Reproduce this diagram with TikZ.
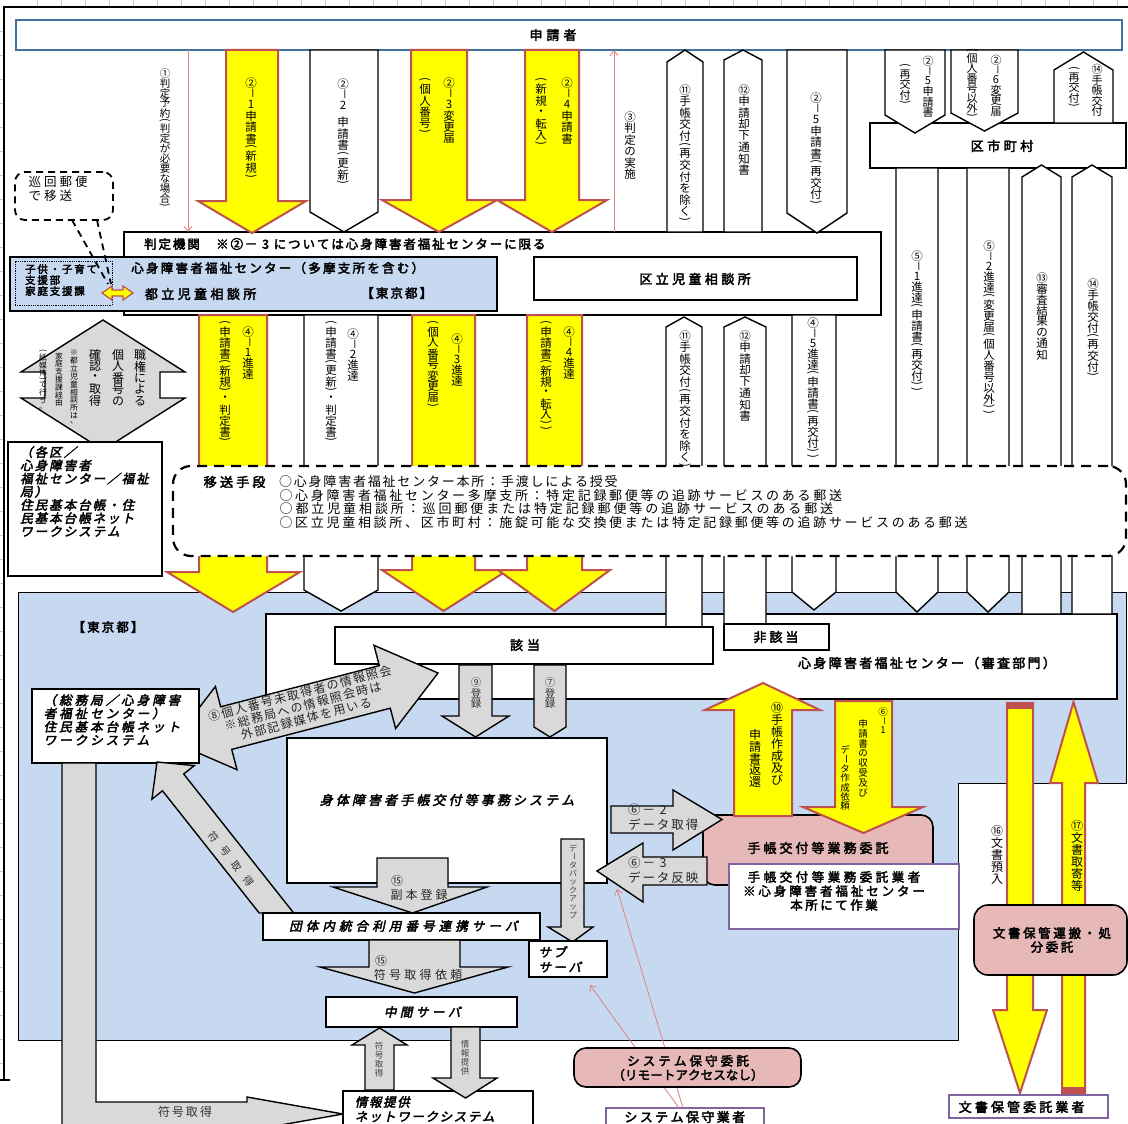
\documentclass[tikz,border=0pt]{standalone}
\usepackage{fontspec}
\setmainfont{Noto Sans CJK JP}[AutoFakeBold=3,AutoFakeSlant=0.22]
\usepackage{graphicx}
\usetikzlibrary{calc,arrows.meta}
\definecolor{ylw}{HTML}{FFFF00}
\definecolor{ybrd}{HTML}{C0504D}
\definecolor{gry}{HTML}{D9D9D9}
\definecolor{blu}{HTML}{C6D9F1}
\definecolor{pnk}{HTML}{E6B9B8}
\definecolor{prp}{HTML}{8064A2}
\definecolor{sblue}{HTML}{41719C}
\definecolor{thinred}{HTML}{E08080}

\ExplSyntaxOn
\dim_new:N \l_rk_pitch_dim
\cs_new_protected:Npn \rk_vbox:nn #1 #2
  {
    \hbox_to_wd:nn {1em}
      { \hss \vbox_to_ht:nn { #1 \l_rk_pitch_dim } { \vss \hbox:n {#2} \vss } \hss }
  }
\cs_new_protected:Npn \rk_vchar:n #1
  {
    \str_case:nnF {#1}
      {
        {（} { \rk_vbox:nn {0.55} { \rotatebox[origin=c]{-90}{(} } }
        {）} { \rk_vbox:nn {0.55} { \rotatebox[origin=c]{-90}{)} } }
        {－} { \rk_vbox:nn {0.85} { \rotatebox[origin=c]{-90}{－} } }
        {ー} { \rk_vbox:nn {1} { \rotatebox[origin=c]{-90}{ー} } }
        {*} { \rk_vbox:nn {0.5} { } }
      }
      { \rk_vbox:nn {1} {#1} }
  }
\NewDocumentCommand \vt { O{11.5pt} m }
  {
    \dim_set:Nn \l_rk_pitch_dim {#1}
    \vtop { \offinterlineskip \tl_map_inline:nn {#2} { \rk_vchar:n {##1} } }
  }
\NewDocumentCommand \hs { m m }
  {
    \dim_set:Nn \l_rk_pitch_dim {#1}
    \tl_map_inline:nn {#2}
      {
        \str_if_eq:nnTF {##1} {*}
          { \hbox_to_wd:nn { 0.5 \l_rk_pitch_dim } { } }
          { \hbox_to_wd:nn { \l_rk_pitch_dim } { \hss ##1 \hss } }
      }
  }
\ExplSyntaxOff

\newcommand\fsz[1]{\fontsize{#1}{#1}\selectfont}
\newcommand\fszl[2]{\fontsize{#1}{#2}\selectfont}
% box node: style, name, x1, y1, x2, y2
\newcommand\bx[6][]{%
  \pgfmathsetmacro\rkw{#5-#3}\pgfmathsetmacro\rkh{#6-#4}%
  \node[inner sep=0pt,outer sep=0pt,minimum width=\rkw pt,minimum height=\rkh pt,anchor=north west,#1] (#2) at (#3,#4) {};}
% vertical block arrow: style, x1, x2, ybase, yshoulder, hx1, hx2, ytip
\newcommand\varrow[8][]{%
  \pgfmathsetmacro\rkxm{(#2+#3)/2}%
  \draw[#1] (#2,#4) -- (#2,#5) -- (#6,#5) -- (\rkxm,#8) -- (#7,#5) -- (#3,#5) -- (#3,#4) -- cycle;}
% horizontal block arrow: style, y1, y2, xbase, xshoulder, hy1, hy2, xtip
\newcommand\harrow[8][]{%
  \pgfmathsetmacro\rkym{(#2+#3)/2}%
  \draw[#1] (#4,#2) -- (#5,#2) -- (#5,#6) -- (#8,\rkym) -- (#5,#7) -- (#5,#3) -- (#4,#3) -- cycle;}

\begin{document}
\begin{tikzpicture}[x=1pt,y=-1pt,
  yarrow/.style={fill=ylw,draw=ybrd,line width=2pt},
  warrow/.style={fill=white,draw=black,line width=1.4pt},
  garrow/.style={fill=gry,draw=black,line width=1.4pt},
  bbox/.style={draw=black,fill=white,line width=1.5pt},
  pbox/.style={draw=black,fill=pnk,line width=1.6pt,rounded corners=12pt},
  vbox/.style={draw=prp,fill=white,line width=1.6pt},
  vl/.style={anchor=north,inner sep=0pt,font=\fsz{11.5}},
  vs/.style={anchor=north,inner sep=0pt,font=\fsz{9.5}},
  tx/.style={inner sep=0pt},
  thinarr/.style={draw=thinred,line width=0.8pt,-{Straight Barb[length=5pt,width=8pt]}},
]
\useasboundingbox (0,0) rectangle (1128,1124);
\fill[white] (0,0) rectangle (1128,1124);
\foreach \g in {37,61,...,1117} \draw[black!20,line width=0.6pt] (\g,0) -- (\g,7);
\foreach \g in {31,55,...,1075} \draw[black!20,line width=0.6pt] (0,\g) -- (4,\g);
\draw[line width=1.2pt] (4,1080) -- (4,7) -- (1128,7);
\draw[line width=1.2pt] (0,1080) -- (10,1080);

% ---------- blue Tokyo region ----------
\path[draw=black,line width=1pt,fill=blu] (18,592) -- (1126,592) -- (1126,783) -- (958,783) -- (958,1040) -- (18,1040) -- cycle;
\node[tx,font=\bfseries\fsz{12.5}] (tokyoT) at (108,627) {\hs{14.6pt}{【東京都】}};

% review department box
\bx[bbox]{shinsa}{266}{614}{1117}{699}
\node[tx,font=\bfseries\fsz{13}] (shinsaT) at (927,663) {\hs{15.3pt}{心身障害者福祉センター（審査部門）}};

% ---------- applicant ----------
\bx[draw=sblue,fill=white,line width=1.2pt]{shinsei}{16}{20}{1122}{50}
\node[tx,font=\bfseries\fsz{13}] (shinseiT) at (553,35) {\hs{17pt}{申請者}};

% ---------- judging body ----------
\bx[bbox,line width=1.8pt]{hantei}{124}{232}{881}{315}
\node[tx,anchor=west,font=\bfseries\fsz{12.5}] (hanteiT) at (143,244) {\hs{14.4pt}{判定機関**※②－3については心身障害者福祉センターに限る}};
\bx[draw=black,fill=blu,line width=2pt]{center}{10}{257}{497}{311}
\bx[draw=black,densely dotted,line width=0.8pt]{kodomo}{15}{261}{112}{305}
\node[tx,anchor=north west,align=left,font=\bfseries\fszl{10.5}{11}] (kodomoT) at (24,264) {\hs{12.3pt}{子供・子育て}\\\hs{12.3pt}{支援部}\\\hs{12.3pt}{家庭支援課}};
\node[tx,anchor=west,font=\bfseries\fsz{12.5}] (centerT) at (130,268) {\hs{14.75pt}{心身障害者福祉センター（多摩支所を含む）}};
\node[tx,anchor=west,font=\bfseries\fsz{13}] (toritsuT) at (143,294) {\hs{16.4pt}{都立児童相談所}};
\node[tx,anchor=west,font=\bfseries\fsz{12.5}] (tokyo2T) at (360,293) {\hs{14.6pt}{【東京都】}};
\draw[fill=ylw,draw=ybrd,line width=1.2pt] (102,293) -- (112,286) -- (112,290) -- (123,290) -- (123,286) -- (133,293) -- (123,300) -- (123,296) -- (112,296) -- (112,300) -- cycle;
\bx[bbox]{kuritsu}{534}{257}{857}{300}
\node[tx,font=\bfseries\fsz{13}] (kuritsuT) at (695,279) {\hs{16.4pt}{区立児童相談所}};

% callout
\bx[draw=black,line width=1.8pt,dash pattern=on 7pt off 5pt,rounded corners=10pt]{junkai}{15}{172}{113}{220}
\node[tx,anchor=north west,align=left,font=\fszl{12.5}{14}] (junkaiT) at (27,176) {\hs{15.5pt}{巡回郵便}\\\hs{15.5pt}{で移送}};
\coordinate (dbl) at (108,284);
\draw[line width=1.8pt,dash pattern=on 7pt off 5pt] ($(junkai.south west)+(57,0)$) -- (dbl);
\draw[line width=1.8pt,dash pattern=on 7pt off 5pt] ($(junkai.south west)+(82,0)$) -- ($(dbl)+(3,0)$);

% ---------- top arrows ----------
\varrow[yarrow]{226}{278}{50}{201}{198}{306}{233}
\varrow[warrow]{310}{378}{50}{212}{310}{378}{232}
\varrow[yarrow]{411}{467}{50}{200}{382}{497}{232}
\varrow[yarrow]{525}{579}{50}{200}{497}{607}{232}
\varrow[warrow]{667}{703}{232}{62}{667}{703}{50}
\varrow[warrow]{724}{762}{232}{60}{724}{762}{50}
\varrow[warrow]{787}{847}{50}{213}{787}{847}{233}
\coordinate (c1) at (188,0);
\coordinate (c3) at (614,0);
\draw[thinarr] (shinsei.south -| c1) -- (hantei.north -| c1);
\draw[thinarr] (hantei.north -| c3) -- (shinsei.south -| c3);

% municipality
\bx[bbox]{kushi}{870}{123}{1126}{168}
\node[tx,font=\bfseries\fsz{13}] (kushiT) at (1002,146) {\hs{16.5pt}{区市町村}};
\varrow[warrow]{885}{945}{50}{115}{885}{945}{133}
\varrow[warrow]{951}{1018}{50}{113}{951}{1018}{131}
\varrow[warrow]{1054}{1113}{123}{70}{1054}{1113}{52}

% top labels
\node[vl,font=\fsz{10.5}] (l1) at (165,68) {\vt[10pt]{①判定予約（判定が必要な場合）}};
\node[vl] (l21) at (251,77) {\vt{②－1申請書（新規）}};
\node[vl] (l22) at (343,78) {\vt{②－2*申請書（更新）}};
\node[vl] (l23a) at (449,77) {\vt{②－3変更届}};
\node[vl] (l23b) at (425,77) {\vt{（個人番号）}};
\node[vl] (l24a) at (567,77) {\vt{②－4申請書}};
\node[vl] (l24b) at (541,77) {\vt{（新規・転入）}};
\node[vl] (l3) at (630,111) {\vt{③判定の実施}};
\node[vl] (l11) at (685,84) {\vt{⑪手帳交付（再交付を除く）}};
\node[vl] (l12) at (744,84) {\vt{⑫申請却下通知書}};
\node[vl] (l25) at (816,92) {\vt{②－5申請書（再交付）}};
\node[vl,font=\fsz{11}] (l25a) at (928,56) {\vt[10.5pt]{②－5申請書}};
\node[vl,font=\fsz{11}] (l25b) at (905,63) {\vt[10.5pt]{（再交付）}};
\node[vl,font=\fsz{11}] (l26a) at (996,55) {\vt[10.5pt]{②－6変更届}};
\node[vl,font=\fsz{11}] (l26b) at (972,48) {\vt[10pt]{（個人番号以外）}};
\node[vl,font=\fsz{11}] (l14a) at (1097,64) {\vt[10.5pt]{⑭手帳交付}};
\node[vl,font=\fsz{11}] (l14b) at (1074,66) {\vt[10.5pt]{（再交付）}};

% ---------- middle arrows ----------
\varrow[yarrow]{199}{267}{315}{572}{167}{300}{612}
\varrow[warrow]{304}{378}{315}{590}{304}{378}{611}
\varrow[yarrow]{412}{475}{315}{570}{382}{508}{611}
\varrow[yarrow]{527}{582}{315}{570}{498}{610}{611}
\varrow[warrow]{666}{702}{627}{327}{666}{702}{317}
\varrow[warrow]{724}{766}{624}{327}{724}{766}{317}
\varrow[warrow]{792}{836}{315}{592}{792}{836}{610}
\varrow[warrow]{896}{938}{168}{592}{896}{938}{612}
\varrow[warrow]{967}{1009}{168}{592}{967}{1009}{612}
\varrow[warrow]{1022}{1061}{614}{177}{1022}{1061}{165}
\varrow[warrow]{1072}{1112}{614}{177}{1072}{1112}{165}

\node[vl] (l41a) at (248,326) {\vt[11pt]{④－1進達}};
\node[vl] (l41b) at (225,320) {\vt[11pt]{（申請書（新規）・判定書）}};
\node[vl] (l42a) at (353,328) {\vt[11pt]{④－2進達}};
\node[vl] (l42b) at (331,320) {\vt[11pt]{（申請書（更新）・判定書）}};
\node[vl] (l43a) at (457,333) {\vt[11pt]{④－3進達}};
\node[vl] (l43b) at (433,320) {\vt[11pt]{（個人番号変更届）}};
\node[vl] (l44a) at (569,326) {\vt[11pt]{④－4進達}};
\node[vl] (l44b) at (546,320) {\vt[11pt]{（申請書（新規・転入））}};
\node[vl] (l11b) at (685,330) {\vt{⑪手帳交付（再交付を除く）}};
\node[vl] (l12b) at (745,330) {\vt{⑫申請却下通知書}};
\node[vl] (l45) at (813,317) {\vt[11pt]{④－5進達（申請書（再交付））}};
\node[vl] (l51) at (917,250) {\vt[11pt]{⑤－1進達（申請書（再交付））}};
\node[vl] (l52) at (989,240) {\vt[11pt]{⑤－2進達（変更届（個人番号以外））}};
\node[vl] (l13) at (1042,272) {\vt[11pt]{⑬審査結果の通知}};
\node[vl] (l14c) at (1093,278) {\vt[11pt]{⑭手帳交付（再交付）}};

% gray double arrow (personal number)
\draw[garrow] (103,320) -- (185,372) -- (160,372) -- (160,398) -- (185,398) -- (103,450) -- (21,398) -- (45,398) -- (45,372) -- (21,372) -- cycle;
\node[vl,font=\fsz{12}] (g1) at (140,349) {\vt[11.5pt]{職権による}};
\node[vl,font=\fsz{12}] (g2) at (118,349) {\vt[11.5pt]{個人番号の}};
\node[vl,font=\fsz{12}] (g3) at (95,349) {\vt[11.5pt]{確認・取得}};
\node[vl,font=\fsz{7.8}] (g4) at (74,349) {\vt[7.8pt]{※都立児童相談所は、}};
\node[vl,font=\fsz{7.8}] (g5) at (59,352) {\vt[7.8pt]{家庭支援課経由}};
\node[vl,font=\fsz{7.8}] (g6) at (43,349) {\vt[7.8pt]{（紙媒体）で行う。}};

% residents registry box (left)
\bx[bbox]{kakku}{8}{442}{162}{576}
\node[tx,anchor=north west,align=left,font=\bfseries\itshape\fszl{12.5}{13.2}] (kakkuT) at (19,446) {\hs{14.5pt}{（各区／}\\\hs{14.5pt}{心身障害者}\\\hs{14.5pt}{福祉センター／福祉}\\\hs{14.5pt}{局）}\\\hs{14.5pt}{住民基本台帳・住}\\\hs{14.5pt}{民基本台帳ネット}\\\hs{14.5pt}{ワークシステム}};

% ---------- transport means (dashed) ----------
\bx[draw=black,fill=white,line width=2.2pt,dash pattern=on 10pt off 7pt,rounded corners=18pt]{isou}{173}{466}{1126}{556}
\node[tx,anchor=west,font=\bfseries\fsz{13}] (isouT) at (202,482) {\hs{16.2pt}{移送手段}};
\node[tx,anchor=west,font=\fsz{13}] (i1) at (278,482) {\hs{14.8pt}{○心身障害者福祉センター本所：手渡しによる授受}};
\node[tx,anchor=west,font=\fsz{13}] (i2) at (278,495.5) {\hs{15.7pt}{○心身障害者福祉センター多摩支所：特定記録郵便等の追跡サービスのある郵送}};
\node[tx,anchor=west,font=\fsz{13}] (i3) at (278,509) {\hs{15.9pt}{○都立児童相談所：巡回郵便または特定記録郵便等の追跡サービスのある郵送}};
\node[tx,anchor=west,font=\fsz{13}] (i4) at (278,522.5) {\hs{15.7pt}{○区立児童相談所、区市町村：施錠可能な交換便または特定記録郵便等の追跡サービスのある郵送}};

% ---------- lower Tokyo part ----------
\bx[bbox]{gaitou}{335}{627}{713}{664}
\node[tx,font=\bfseries\fsz{13}] (gaitouT) at (525,645) {\hs{17pt}{該当}};
\bx[bbox]{higai}{724}{624}{829}{650}
\node[tx,font=\bfseries\fsz{13}] (higaiT) at (776,637) {\hs{16pt}{非該当}};

% 8 double arrow
\draw[garrow] (173,742) -- (215.4,686.5) -- (220.7,706.8) -- (379.3,665.6) -- (374.0,645.3) -- (438,673) -- (395.6,728.5) -- (390.3,708.2) -- (231.7,749.4) -- (237.0,769.7) -- cycle;
\node[tx,rotate=14.6,align=center,font=\fszl{12}{13},text=black!85] (l8) at (303,706) {\hs{13.6pt}{⑧個人番号未取得者の情報照会}\\\hs{13.6pt}{※総務局への情報照会時は}\\\hs{13.6pt}{外部記録媒体を用いる}};

% soumu box
\bx[bbox]{soumu}{32}{689}{199}{763}
\node[tx,anchor=north west,align=left,font=\bfseries\itshape\fszl{12.5}{13.3}] (soumuT) at (42,694) {\hs{15.5pt}{（総務局／心身障害}\\\hs{15.5pt}{者福祉センター）}\\\hs{15.5pt}{住民基本台帳ネット}\\\hs{15.5pt}{ワークシステム}};

% 9 & 7 registration arrows
\varrow[garrow]{459}{492}{665}{716}{442}{509}{737}
\varrow[garrow]{534}{566}{665}{727}{534}{566}{737}
\node[vs,font=\fsz{10.5},text=black!80] (l9) at (476,677) {\vt[10.5pt]{⑨登録}};
\node[vs,font=\fsz{10.5},text=black!80] (l7) at (550,677) {\vt[10.5pt]{⑦登録}};

% system box
\bx[bbox]{jimu}{287}{738}{607}{883}
\node[tx,font=\bfseries\itshape\fsz{13}] (jimuT) at (447,800) {\hs{16.1pt}{身体障害者手帳交付等事務システム}};

% L-shaped arrow and diagonal code arrow
\draw[garrow] (62,763) -- (96,763) -- (96,1102) -- (247,1102) -- (247,1097) -- (343,1114) -- (247,1131) -- (247,1126) -- (62,1126) -- cycle;
\node[tx,font=\fsz{12},text=black!80] (lfg2) at (185,1112) {\hs{14pt}{符号取得}};
\draw[garrow] (157,762) -- (194.3,765.6) -- (183.7,774) -- (293.7,913) -- (259.2,913) -- (162.5,790.8) -- (151.9,799.2) -- cycle;
\node[tx,rotate=-52,font=\fsz{10.2},text=black!80] (lfg1) at (231,859) {\hs{18.8pt}{符号取得}};

% 15 arrows and servers
\varrow[garrow]{377}{448}{858}{887}{333}{487}{913}
\node[tx,font=\fsz{12},text=black!85] (l15a) at (397,881) {⑮};
\node[tx,anchor=west,font=\fsz{12},text=black!85] (l15b) at (389,895) {\hs{15pt}{副本登録}};
\varrow[garrow]{561}{584}{839}{927}{548}{593}{942}
\node[vl,font=\fsz{8},text=black!75] (lbk) at (573,844) {\vt[8.4pt]{データバックアップ}};
\bx[bbox]{dantai}{263}{913}{540}{940}
\node[tx,anchor=west,font=\bfseries\itshape\fsz{12.5}] (dantaiT) at (287,926) {\hs{16.6pt}{団体内統合利用番号連携サーバ}};
\varrow[garrow]{369}{460}{940}{967}{320}{508}{993}
\node[tx,font=\fsz{12},text=black!85] (l15c) at (381,961) {⑮};
\node[tx,anchor=west,font=\fsz{12},text=black!85] (l15d) at (372,975) {\hs{15.3pt}{符号取得依頼}};
\bx[bbox]{subsv}{529}{941}{607}{977}
\node[tx,anchor=north west,align=left,font=\bfseries\itshape\fszl{12.5}{15}] (subsvT) at (537,946) {\hs{15pt}{サブ}\\\hs{15pt}{サーバ}};
\bx[bbox]{chukan}{326}{997}{517}{1027}
\node[tx,anchor=west,font=\bfseries\itshape\fsz{12.5}] (chukanT) at (382,1012) {\hs{16pt}{中間サーバ}};
\bx[bbox]{jouhou}{343}{1091}{533}{1140}
\node[tx,anchor=north west,align=left,font=\bfseries\itshape\fszl{12.5}{14.5}] (jouhouT) at (354,1096) {\hs{14.1pt}{情報提供}\\\hs{14.1pt}{ネットワークシステム}};
\varrow[garrow]{365}{394}{1090}{1045}{352}{407}{1028}
\varrow[garrow]{451}{480}{1027}{1078}{433}{497}{1098}
\node[vl,font=\fsz{8.5},text=black!75] (lfg) at (379,1042) {\vt[9pt]{符号取得}};
\node[vl,font=\fsz{8.5},text=black!75] (ljt) at (465,1040) {\vt[9pt]{情報提供}};

% pink contractor box
\bx[pbox]{techo}{703}{815}{933}{885}
\node[tx,font=\bfseries\fsz{13}] (techoT) at (818,848) {\hs{16pt}{手帳交付等業務委託}};
\bx[vbox]{techogyo}{729}{864}{959}{929}
\node[tx,align=center,font=\bfseries\fszl{12.5}{14}] (techogyoT) at (834,891) {\hs{16pt}{手帳交付等業務委託業者}\\\hs{15.4pt}{※心身障害者福祉センター}\\\hs{15pt}{本所にて作業}};

% 6-2, 6-3
\harrow[garrow]{806}{833}{611}{673}{790}{850}{722}
\node[tx,anchor=north west,align=left,font=\fszl{12.5}{15},text=black!85] (l62) at (627,804) {\hs{14.4pt}{⑥－2}\\\hs{14.4pt}{データ取得}};
\harrow[garrow]{857}{885}{707}{643}{843}{902}{597}
\node[tx,anchor=north west,align=left,font=\fszl{12.5}{14.5},text=black!85] (l63) at (627,857) {\hs{14.4pt}{⑥－3}\\\hs{14.4pt}{データ反映}};

% 10 and 6-1 yellow arrows
\varrow[yarrow]{734}{792}{816}{710}{705}{820}{683}
\node[vl,font=\fsz{12}] (l10a) at (777,702) {\vt[12pt]{⑩手帳作成及び}};
\node[vl,font=\fsz{12}] (l10b) at (755,729) {\vt[11.7pt]{申請書返還}};
\varrow[yarrow]{835}{892}{701}{807}{803}{923}{833}
\node[vs] (l61a) at (883,707) {\vt[9.8pt]{⑥－1}};
\node[vs] (l61b) at (863,719) {\vt[9.8pt]{申請書の収受及び}};
\node[vs] (l61c) at (845,745) {\vt[9.4pt]{データ作成依頼}};

% 16 / 17 document arrows
\varrow[yarrow]{1007}{1033}{703}{1010}{993}{1047}{1093}
\fill[ybrd] (1006,702) rectangle (1034,709);
\varrow[yarrow]{1062}{1085}{1093}{783}{1050}{1098}{702}
\fill[ybrd] (1061,1087) rectangle (1086,1094);
\node[vl,font=\fsz{12}] (l16) at (997,825) {\vt[12pt]{⑯文書預入}};
\node[vl,font=\fsz{12}] (l17) at (1077,820) {\vt[12pt]{⑰文書取寄等}};
\bx[pbox,rounded corners=14pt]{bunsho}{974}{905}{1127}{975}
\node[tx,align=center,font=\bfseries\fszl{12.5}{14}] (bunshoT) at (1052,940) {\hs{15.1pt}{文書保管運搬・処}\\\hs{15.1pt}{分委託}};
\bx[vbox]{bunshogyo}{949}{1095}{1108}{1118}
\node[tx,anchor=west,font=\bfseries\fsz{13}] (bunshogyoT) at (957,1107) {\hs{16.1pt}{文書保管委託業者}};

% maintenance
\bx[vbox]{hoshugyo}{606}{1108}{764}{1140}
\node[tx,anchor=west,font=\bfseries\fsz{13}] (hoshugyoT) at (623,1117) {\hs{15.4pt}{システム保守業者}};
\coordinate (m0) at (679,1108);
\draw[thinarr] (m0) -- ($(subsv.south)+(22,8)$);
\draw[thinarr] ($(m0)+(4,0)$) -- ($(techogyo.south west)+(-112,-40)$);
\bx[pbox]{hoshu}{574}{1048}{801}{1087}
\node[tx,align=center,font=\bfseries\fszl{12.5}{14}] (hoshuT) at (688,1068) {\hs{15.6pt}{システム保守委託}\\\hs{12.6pt}{（リモートアクセスなし）}};
\end{tikzpicture}
\end{document}
